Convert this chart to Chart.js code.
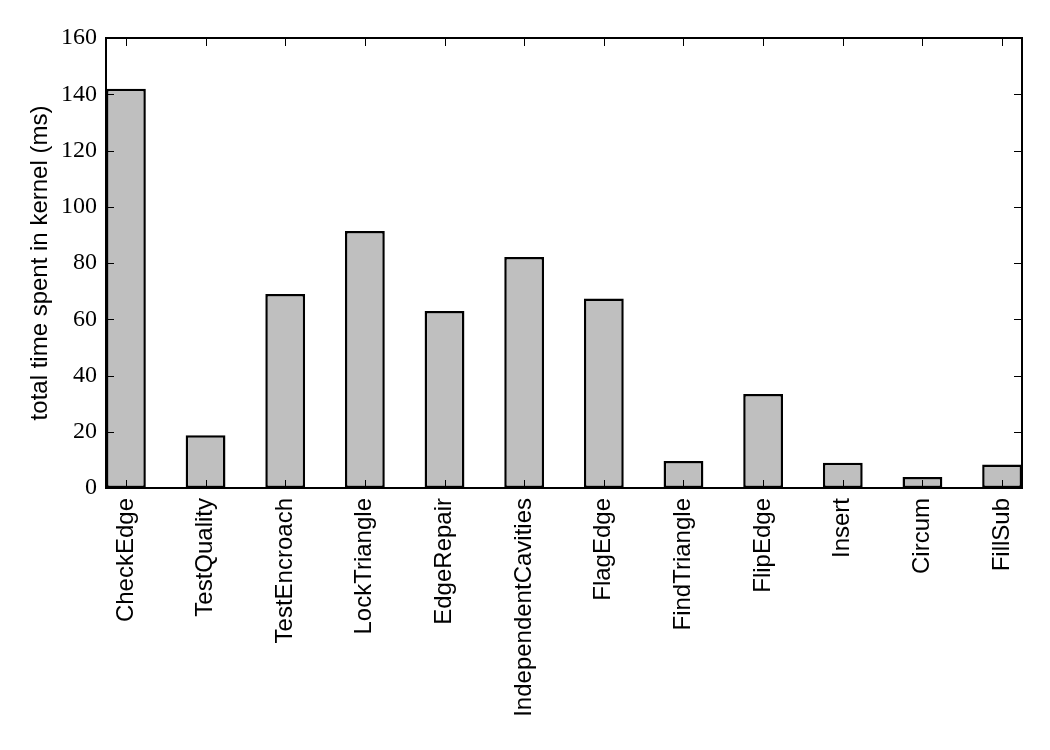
<!DOCTYPE html>
<html>
<head>
<meta charset="utf-8">
<script src="https://cdn.jsdelivr.net/npm/chart.js@4"></script>
<style>
  html, body { margin: 0; padding: 0; background: #fff; }
</style>
</head>
<body>
<canvas id="myChart" width="1050" height="750"></canvas>
<script>
const KERNELS = [
  "CheckEdge", "TestQuality", "TestEncroach", "LockTriangle", "EdgeRepair",
  "IndependentCavities", "FlagEdge", "FindTriangle", "FlipEdge", "Insert",
  "Circum", "FillSub",
];
const TIME_MS = [142, 18.8, 69.0, 91.4, 62.9, 82.1, 67.4, 9.6, 33.4, 9.0, 3.9, 8.4];
const Y_TICKS = [0, 20, 40, 60, 80, 100, 120, 140, 160];

// matplotlib-style inward ticks on all four sides plus the frame
const frameTicks = {
  id: "frameTicks",
  afterDatasetsDraw(chart) {
    const { ctx, chartArea: a, scales } = chart;
    const x = scales.x, y = scales.y;
    ctx.save();
    ctx.strokeStyle = "#000";
    ctx.lineWidth = 1;
    ctx.beginPath();
    y.ticks.forEach((t) => {
      const py = Math.round(y.getPixelForValue(t.value)) + 0.5;
      ctx.moveTo(a.left, py); ctx.lineTo(a.left + 8, py);
      ctx.moveTo(a.right, py); ctx.lineTo(a.right - 8, py);
    });
    x.ticks.forEach((t) => {
      const px = Math.round(x.getPixelForValue(t.value)) + 0.5;
      ctx.moveTo(px, a.bottom); ctx.lineTo(px, a.bottom - 8);
      ctx.moveTo(px, a.top); ctx.lineTo(px, a.top + 8);
    });
    ctx.stroke();
    ctx.lineWidth = 2;
    ctx.strokeRect(a.left, a.top, a.right - a.left, a.bottom - a.top);
    ctx.restore();
  },
};

var ctx = document.getElementById("myChart").getContext("2d");
var myChart = new Chart(ctx, {
  type: "bar",
  data: {
    datasets: [
      {
        data: TIME_MS.map((v, i) => ({ x: i, y: v })),
        backgroundColor: "#bfbfbf",
        borderColor: "#000",
        borderWidth: 2.5,
        borderSkipped: false,
        barPercentage: 0.5,
        categoryPercentage: 1,
      },
    ],
  },
  options: {
    responsive: false,
    animation: false,
    layout: { padding: { top: 38, right: 28, left: 0, bottom: 0 } },
    plugins: { legend: { display: false }, tooltip: { enabled: false } },
    scales: {
      x: {
        type: "linear",
        offset: false,
        min: -0.25,
        max: 11.25,
        grid: { display: false, drawTicks: false },
        border: { display: false },
        afterBuildTicks: (scale) => {
          scale.ticks = KERNELS.map((_, i) => ({ value: i }));
        },
        afterFit: (scale) => { scale.height = 262; },
        ticks: {
          autoSkip: false,
          minRotation: 90,
          maxRotation: 90,
          padding: 10,
          color: "#000",
          font: { family: "Liberation Sans", size: 24 },
          callback: (value) => KERNELS[value],
        },
      },
      y: {
        min: 0,
        max: 160,
        grid: { display: false, drawTicks: false },
        border: { display: false },
        afterBuildTicks: (scale) => {
          scale.ticks = Y_TICKS.map((v) => ({ value: v }));
        },
        afterFit: (scale) => { scale.width = 106; },
        title: {
          display: true,
          text: "total time spent in kernel (ms)",
          color: "#000",
          font: { family: "Liberation Sans", size: 24 },
          padding: { top: 26, bottom: 0 },
        },
        ticks: {
          padding: 9,
          color: "#000",
          font: { family: "Liberation Serif", size: 24 },
        },
      },
    },
  },
  plugins: [frameTicks],
});
</script>
</body>
</html>
